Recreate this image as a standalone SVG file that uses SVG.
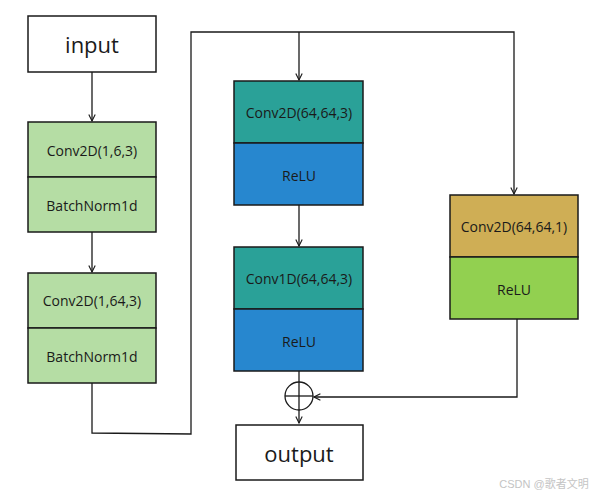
<svg xmlns="http://www.w3.org/2000/svg" width="590" height="494" viewBox="0 0 590 494">
<defs>
<marker id="arr" viewBox="0 0 10 10" refX="9" refY="5" markerWidth="8" markerHeight="8" markerUnits="userSpaceOnUse" orient="auto">
<path d="M1,1 L9,5 L1,9" fill="none" stroke="#1a1a1a" stroke-width="1.4"/>
</marker>
</defs>
<style>
rect{stroke:#1a1a1a;stroke-width:1.5}
.w{fill:#ffffff}
.g{fill:#b5dda4}
.t{fill:#2aa198}
.b{fill:#2787cf}
.y{fill:#cfae55}
.l{fill:#92d050}
text{font-family:"Open Sans","Liberation Sans",sans-serif;fill:#1a1a1a;text-anchor:middle;dominant-baseline:central}
.s{font-size:14px}
.big{font-size:22px}
.c path,.c line{fill:none;stroke:#1a1a1a;stroke-width:1.3}
</style>
<g class="c" id="connectors">
<line x1="92" y1="72" x2="92" y2="121" marker-end="url(#arr)"/>
<line x1="92" y1="232" x2="92" y2="272" marker-end="url(#arr)"/>
<path d="M92,383 L92,433 L191,434 L191,32 L514,32 L514,194" marker-end="url(#arr)"/>
<line x1="299" y1="32" x2="299" y2="80" marker-end="url(#arr)"/>
<line x1="299" y1="205" x2="299" y2="246" marker-end="url(#arr)"/>
<line x1="299" y1="371" x2="299" y2="423" marker-end="url(#arr)"/>
<path d="M517,318 L517,397 L314,397" marker-end="url(#arr)"/>
<circle cx="299" cy="396" r="14" fill="none" stroke="#1a1a1a" stroke-width="1.3"/>
<line x1="285" y1="396" x2="313" y2="396"/>
</g>
<g id="input"><rect class="w" x="28" y="16" width="128" height="56"/><text class="big" x="92" y="44">input</text></g>
<g id="block1">
<rect class="g" x="28" y="122" width="128" height="55"/><text class="s" x="92" y="150">Conv2D(1,6,3)</text>
<rect class="g" x="28" y="177" width="128" height="55"/><text class="s" x="92" y="205">BatchNorm1d</text>
</g>
<g id="block2">
<rect class="g" x="28" y="273" width="128" height="55"/><text class="s" x="92" y="300">Conv2D(1,64,3)</text>
<rect class="g" x="28" y="328" width="128" height="55"/><text class="s" x="92" y="356">BatchNorm1d</text>
</g>
<g id="block3">
<rect class="t" x="234" y="81" width="129" height="62"/><text class="s" x="299" y="112">Conv2D(64,64,3)</text>
<rect class="b" x="234" y="143" width="129" height="62"/><text class="s" x="299" y="175">ReLU</text>
</g>
<g id="block4">
<rect class="t" x="234" y="247" width="129" height="62"/><text class="s" x="299" y="278">Conv1D(64,64,3)</text>
<rect class="b" x="234" y="309" width="129" height="62"/><text class="s" x="299" y="341">ReLU</text>
</g>
<g id="block5">
<rect class="y" x="450" y="195" width="128" height="62"/><text class="s" x="514" y="226">Conv2D(64,64,1)</text>
<rect class="l" x="450" y="257" width="128" height="62"/><text class="s" x="514" y="289">ReLU</text>
</g>
<g id="output"><rect class="w" x="236" y="425" width="127" height="55"/><text class="big" x="299" y="453">output</text></g>
<text x="544" y="484" style="font-size:11px;fill:#c4c4c4;font-family:'Liberation Sans','Noto Sans CJK SC',sans-serif">CSDN @歌者文明</text>
</svg>
